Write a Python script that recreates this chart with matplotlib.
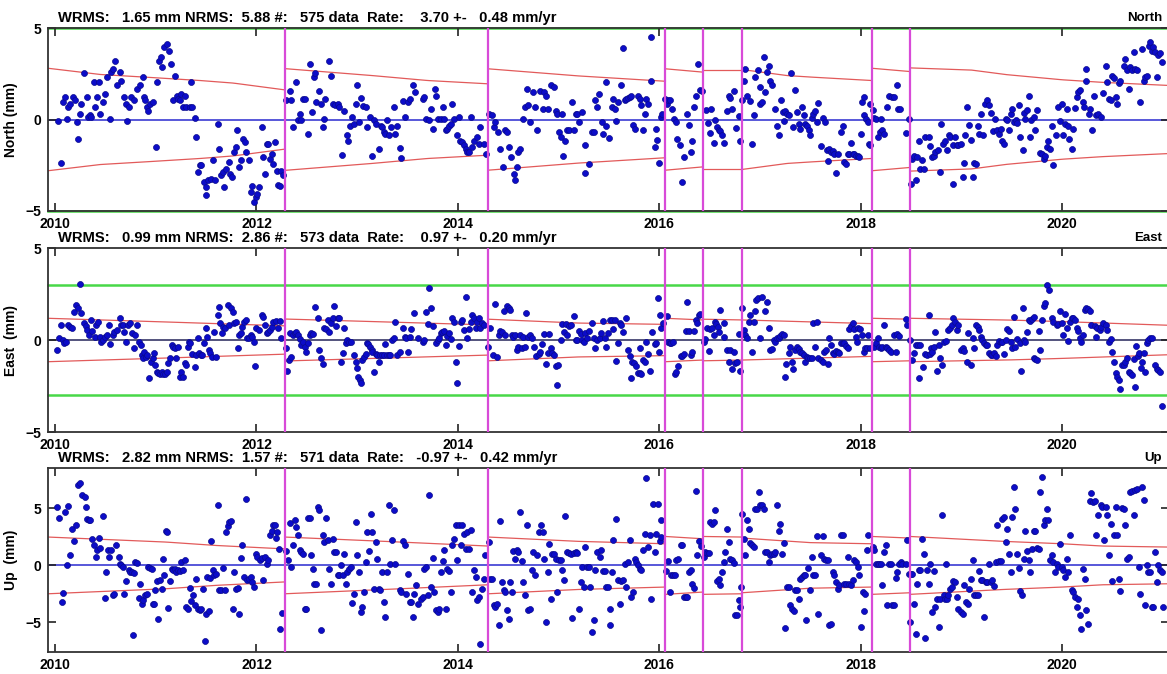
import numpy as np
import matplotlib
matplotlib.use('Agg')
import matplotlib.pyplot as plt

plt.rcParams['font.family'] = ['Liberation Sans', 'DejaVu Sans']
plt.rcParams['font.weight'] = 'bold'

# ---- data ----------------------------------------------------------------

components = ['North', 'East', 'Up']
ylabels = ['North (mm)', 'East  (mm)', 'Up  (mm)']
wrms = [1.65, 0.99, 2.82]
nrms = [5.88, 2.86, 1.57]
ndata = [575, 573, 571]
rate = [3.70, 0.97, -0.97]
rate_sig = [0.48, 0.20, 0.42]

x_ticks = [2010, 2012, 2014, 2016, 2018, 2020]
breaks = [2012.28, 2014.30, 2016.06, 2016.43, 2016.82, 2018.11, 2018.49]
green_lim = [5, 3, None]

# (decimal year, mm)
north = [
    (2010.03, -0.09), (2010.06, -2.39), (2010.08, 0.95), (2010.10, 1.22), (2010.12, 0.04), (2010.13, 0.67),
    (2010.15, 0.86), (2010.18, 1.22), (2010.20, 1.04), (2010.22, -0.15), (2010.23, -1.06), (2010.25, 0.31),
    (2010.26, 0.86), (2010.29, 2.53), (2010.32, 1.22), (2010.33, 0.13), (2010.35, 0.22), (2010.36, 0.16),
    (2010.39, 2.04), (2010.40, 0.67), (2010.42, 1.22), (2010.44, 2.04), (2010.45, 0.31), (2010.48, 0.95),
    (2010.50, 1.40), (2010.52, 2.31), (2010.55, 0.04), (2010.56, 2.59), (2010.58, 2.77), (2010.60, 3.22),
    (2010.62, 1.91), (2010.64, 2.59), (2010.65, 2.13), (2010.68, 1.22), (2010.70, 0.86), (2010.71, -0.09),
    (2010.73, 0.67), (2010.75, 1.22), (2010.78, 1.09), (2010.81, 1.68), (2010.84, 1.86), (2010.87, 2.31),
    (2010.88, 1.22), (2010.89, 1.04), (2010.91, 0.71), (2010.92, 0.49), (2010.94, 0.86), (2010.97, 0.95),
    (2011.00, -1.51), (2011.01, 2.04), (2011.03, 3.22), (2011.05, 3.41), (2011.06, 2.86), (2011.08, 3.95),
    (2011.11, 4.13), (2011.13, 3.73), (2011.15, 3.04), (2011.17, 1.04), (2011.19, 2.35), (2011.21, 1.31),
    (2011.22, 1.13), (2011.24, 1.04), (2011.25, 1.40), (2011.27, 0.67), (2011.29, 1.26), (2011.30, 0.67),
    (2011.34, 0.67), (2011.36, 0.67), (2011.35, 2.04), (2011.39, 0.09), (2011.40, -0.97), (2011.42, -2.88),
    (2011.44, -2.51), (2011.45, -2.51), (2011.48, -3.42), (2011.50, -3.70), (2011.50, -4.15), (2011.52, -3.33),
    (2011.55, -3.24), (2011.57, -2.24), (2011.59, -3.30), (2011.62, -0.24), (2011.63, -1.60), (2011.65, -3.06),
    (2011.67, -2.88), (2011.68, -3.70), (2011.70, -2.70), (2011.73, -2.33), (2011.74, -2.97), (2011.76, -3.15),
    (2011.78, -1.79), (2011.80, -1.51), (2011.81, -0.60), (2011.83, -2.57), (2011.85, -2.24), (2011.87, -1.06),
    (2011.89, -1.24), (2011.90, -1.79), (2011.93, -2.24), (2011.95, -3.97), (2011.96, -3.61), (2011.98, -4.52),
    (2012.00, -4.24), (2012.01, -4.06), (2012.02, -3.70), (2012.05, -0.42), (2012.06, -2.06), (2012.08, -2.97),
    (2012.10, -1.33), (2012.11, -1.33), (2012.13, -2.15), (2012.15, -1.88), (2012.16, -2.42), (2012.18, -1.24),
    (2012.20, -2.79), (2012.21, -3.57), (2012.23, -3.61), (2012.24, -2.79), (2012.26, -3.06),
    (2012.29, 1.04), (2012.33, 1.58), (2012.34, 1.04), (2012.36, -0.42), (2012.39, 2.04), (2012.41, -0.05),
    (2012.43, 0.31), (2012.44, -0.05), (2012.46, 1.13), (2012.48, 1.13), (2012.51, -0.78), (2012.53, 3.04),
    (2012.55, 0.40), (2012.57, 2.31), (2012.58, 2.53), (2012.59, 0.95), (2012.62, 1.58), (2012.64, 0.86),
    (2012.66, -0.42), (2012.67, 0.04), (2012.68, 1.13), (2012.72, 3.17), (2012.74, 2.35), (2012.76, 0.86),
    (2012.78, 0.77), (2012.81, 0.86), (2012.82, 0.67), (2012.85, -1.93), (2012.87, 0.49), (2012.90, -0.87),
    (2012.91, -1.15), (2012.93, -0.33), (2012.95, 0.13), (2012.97, -0.24), (2012.99, 0.86), (2013.00, 1.86),
    (2013.02, -0.15), (2013.04, 1.18), (2013.06, 0.73), (2013.09, 0.67), (2013.10, -0.42), (2013.13, 0.13),
    (2013.15, -2.02), (2013.17, -0.05), (2013.19, -0.24), (2013.22, -1.60), (2013.24, -0.33), (2013.25, -0.42),
    (2013.27, -0.69), (2013.28, -0.78), (2013.30, -0.05), (2013.32, -0.87), (2013.34, -0.42), (2013.37, 0.67),
    (2013.38, -0.78), (2013.40, -0.33), (2013.42, -1.57), (2013.43, -2.11), (2013.45, 1.00), (2013.47, 0.13),
    (2013.50, 0.95), (2013.52, 1.13), (2013.55, 1.86), (2013.57, 1.49), (2013.65, 1.13), (2013.66, 1.22),
    (2013.68, 0.04), (2013.71, -0.05), (2013.73, 0.58), (2013.75, -0.51), (2013.77, 1.68), (2013.78, 1.26),
    (2013.80, 0.04), (2013.83, 0.04), (2013.85, 0.67), (2013.86, 0.04), (2013.88, -0.60), (2013.89, -0.51),
    (2013.91, -0.38), (2013.93, -0.24), (2013.94, 0.86), (2013.96, 0.04), (2013.99, -0.87), (2014.01, 0.13),
    (2014.02, -1.15), (2014.04, -1.24), (2014.06, -1.42), (2014.08, -1.60), (2014.09, -1.79), (2014.11, -1.79),
    (2014.13, 0.13), (2014.14, -1.51), (2014.16, -1.15), (2014.19, -0.97), (2014.21, -1.33), (2014.22, -0.42),
    (2014.26, -1.33), (2014.28, -1.88),
    (2014.31, 0.31), (2014.34, 0.22), (2014.36, -0.42), (2014.37, -0.15), (2014.40, -0.69), (2014.42, -1.60),
    (2014.45, -2.60), (2014.47, -0.60), (2014.49, -0.69), (2014.51, -1.51), (2014.53, -2.06), (2014.56, -2.97),
    (2014.57, -3.33), (2014.59, -2.60), (2014.60, -1.79), (2014.62, -1.60), (2014.65, 0.04), (2014.67, 0.67),
    (2014.69, 1.68), (2014.70, 0.77), (2014.72, -0.15), (2014.75, 1.49), (2014.77, 0.67), (2014.79, -0.60),
    (2014.81, 1.58), (2014.84, 0.58), (2014.85, 1.49), (2014.87, 1.31), (2014.89, 0.58), (2014.92, 1.86),
    (2014.95, 1.77), (2014.97, 0.49), (2014.98, 0.31), (2015.00, -0.69), (2015.02, -0.97), (2015.03, 0.31),
    (2015.04, -1.97), (2015.06, -1.15), (2015.08, -0.60), (2015.10, -0.60), (2015.13, 0.95), (2015.15, -0.60),
    (2015.17, 0.31), (2015.18, 0.31), (2015.20, -0.15), (2015.23, 0.40), (2015.26, -2.93), (2015.26, -1.42),
    (2015.30, -2.42), (2015.33, -0.69), (2015.35, -0.69), (2015.36, 1.04), (2015.38, 0.67),
    (2015.40, 1.37), (2015.43, -0.15), (2015.44, -0.78), (2015.47, -0.33), (2015.47, 2.04), (2015.50, -1.00),
    (2015.53, 0.67), (2015.54, 1.13), (2015.56, 0.58), (2015.57, -0.09), (2015.59, 0.95), (2015.62, 1.91),
    (2015.64, 3.90), (2015.66, 1.04), (2015.67, 1.13), (2015.69, 1.18), (2015.71, 1.22), (2015.72, 1.31),
    (2015.74, -0.29), (2015.76, -0.51), (2015.79, 1.31), (2015.81, 1.13), (2015.82, 0.77), (2015.84, -0.60),
    (2015.86, 0.31), (2015.87, 1.13), (2015.89, 0.86), (2015.92, 4.50), (2015.92, 2.09), (2015.96, -1.51),
    (2015.97, -0.51), (2015.98, -1.11), (2016.00, -2.39), (2016.02, 0.13), (2016.03, 0.31),
    (2016.06, 1.13), (2016.08, 0.86), (2016.09, 1.07), (2016.11, 1.04), (2016.13, 0.58), (2016.15, 0.04),
    (2016.17, -0.15), (2016.18, -1.06), (2016.20, -1.42), (2016.22, -3.42), (2016.24, -2.06), (2016.27, 0.31),
    (2016.29, -0.29), (2016.31, -1.79), (2016.32, -1.15), (2016.34, 0.71), (2016.36, 1.31), (2016.38, 3.04),
    (2016.40, 1.62), (2016.42, 1.55),
    (2016.46, 0.53), (2016.48, -0.20), (2016.50, -0.75), (2016.51, 0.58), (2016.54, -1.28), (2016.55, -0.02),
    (2016.57, -0.42), (2016.59, -0.60), (2016.60, -0.64), (2016.62, -0.87), (2016.64, -1.29), (2016.67, 0.49),
    (2016.69, 1.31), (2016.70, 1.18), (2016.72, 0.58), (2016.74, 1.58), (2016.76, -0.47), (2016.79, 0.18),
    (2016.80, -1.18),
    (2016.82, 1.07), (2016.84, 2.09), (2016.85, 2.77), (2016.87, 1.31), (2016.90, 1.00), (2016.92, -1.33),
    (2016.94, 0.22), (2016.95, 2.31), (2016.98, 2.71), (2017.00, 1.77), (2017.00, 0.86), (2017.02, 0.95),
    (2017.04, 3.41), (2017.05, 1.49), (2017.07, 2.59), (2017.09, 2.95), (2017.10, 2.13), (2017.12, 1.86),
    (2017.15, 0.58), (2017.17, -0.38), (2017.19, -0.87), (2017.21, 1.09), (2017.23, 0.40), (2017.24, -0.09),
    (2017.25, 0.49), (2017.27, 0.31), (2017.29, 0.22), (2017.31, 2.53), (2017.33, -0.42), (2017.35, 1.62),
    (2017.37, 0.40), (2017.39, -0.27), (2017.40, -0.51), (2017.42, 0.67), (2017.44, 0.22), (2017.45, -0.24),
    (2017.47, -0.38), (2017.49, -0.60), (2017.50, -0.87), (2017.52, 0.09), (2017.53, 0.31), (2017.55, 0.49),
    (2017.57, -0.15), (2017.58, 0.89), (2017.60, -1.46), (2017.62, 0.09), (2017.64, -0.15), (2017.66, -1.66),
    (2017.67, -2.28), (2017.68, -1.60), (2017.70, -1.79), (2017.72, -1.73), (2017.73, -1.88), (2017.75, -2.93),
    (2017.77, -1.91), (2017.80, -0.69), (2017.82, -0.33), (2017.83, -2.33), (2017.85, -2.42), (2017.87, -1.91),
    (2017.88, -1.88), (2017.90, -1.29), (2017.92, -1.91), (2017.93, -1.91), (2017.95, -2.02), (2017.97, -1.97),
    (2017.98, -2.06), (2018.00, -0.78), (2018.01, 0.95), (2018.03, 1.22), (2018.03, 0.22), (2018.05, 0.04),
    (2018.07, -0.15), (2018.08, -1.33), (2018.09, -1.37), (2018.09, 0.86),
    (2018.12, 0.53), (2018.13, 0.09), (2018.15, 0.04), (2018.17, -0.93), (2018.19, -0.69), (2018.20, 0.04),
    (2018.21, -0.60), (2018.23, -0.78), (2018.26, 0.67), (2018.28, 1.31), (2018.31, 1.22), (2018.33, 1.22),
    (2018.36, 1.86), (2018.37, 0.58), (2018.39, 0.58), (2018.45, -0.75), (2018.48, 0.04),
    (2018.50, -3.52), (2018.51, -2.15), (2018.53, -1.97), (2018.55, -3.33), (2018.56, -2.06), (2018.58, -1.15),
    (2018.59, -2.70), (2018.61, -2.20), (2018.63, -2.70), (2018.64, -0.97), (2018.68, -0.97), (2018.69, -1.46),
    (2018.71, -2.06), (2018.73, -1.97), (2018.74, -1.79), (2018.77, -1.69), (2018.79, -2.88), (2018.80, -0.27),
    (2018.82, -1.33), (2018.84, -1.15), (2018.86, -1.66), (2018.88, -0.87), (2018.89, -0.97), (2018.92, -3.52),
    (2018.92, -1.42), (2018.94, -0.93), (2018.96, -1.37), (2018.97, -1.37), (2018.99, -1.33), (2019.01, -3.15),
    (2019.02, -2.39), (2019.03, -0.87), (2019.05, 0.71), (2019.07, -0.29), (2019.09, -1.11), (2019.11, -3.15),
    (2019.12, -2.37), (2019.14, -2.42), (2019.16, -0.38), (2019.17, -0.78), (2019.19, 0.31), (2019.21, -0.82),
    (2019.23, 0.86), (2019.25, 1.04), (2019.27, 0.77), (2019.29, 0.36), (2019.31, -0.64), (2019.33, 0.04),
    (2019.35, -0.60), (2019.37, -0.78), (2019.39, -0.51), (2019.40, -1.15), (2019.42, -1.33), (2019.44, 0.04),
    (2019.45, -0.05), (2019.47, -0.60), (2019.49, 0.31), (2019.50, 0.58), (2019.52, -0.15), (2019.54, -0.05),
    (2019.55, -0.20), (2019.57, 0.80), (2019.58, -0.97), (2019.61, -1.69), (2019.62, 0.35), (2019.63, 0.04),
    (2019.65, 0.53), (2019.67, 1.26), (2019.68, -0.97), (2019.69, -0.05), (2019.72, 0.13), (2019.73, -0.60),
    (2019.75, 0.53), (2019.78, -1.84), (2019.80, -1.91), (2019.82, -2.15), (2019.83, -1.97), (2019.85, -1.51),
    (2019.86, -1.15), (2019.88, -1.60), (2019.90, -0.33), (2019.91, -2.51), (2019.94, -0.87), (2019.96, 0.71),
    (2019.98, -0.09), (2020.00, 0.82), (2020.01, -0.87), (2020.03, -0.24), (2020.05, 0.58), (2020.06, -0.33),
    (2020.07, -1.06), (2020.10, -1.60), (2020.11, -0.51), (2020.13, 0.64), (2020.15, 1.22), (2020.16, 1.49),
    (2020.18, 1.62), (2020.21, 0.95), (2020.22, 0.67), (2020.24, 2.77), (2020.24, 2.08), (2020.27, 0.31),
    (2020.28, 0.58), (2020.30, -0.60), (2020.32, 1.26), (2020.34, 0.22), (2020.36, 0.31), (2020.38, 0.13),
    (2020.40, 1.44), (2020.43, 2.95), (2020.44, 2.04), (2020.46, 1.13), (2020.48, 1.04), (2020.49, 2.40),
    (2020.51, 2.28), (2020.53, 1.22), (2020.54, 0.86), (2020.56, 1.99), (2020.57, 2.13), (2020.61, 2.95),
    (2020.62, 3.32), (2020.64, 2.68), (2020.66, 1.68), (2020.67, 2.86), (2020.69, 2.68), (2020.71, 3.68),
    (2020.72, 2.77), (2020.74, 2.68), (2020.77, 0.95), (2020.79, 3.86), (2020.81, 2.13), (2020.82, 2.31),
    (2020.84, 2.40), (2020.86, 3.99), (2020.87, 4.23), (2020.89, 3.77), (2020.90, 3.95), (2020.92, 3.68),
    (2020.94, 2.31), (2020.95, 3.50), (2020.97, 3.62), (2020.99, 3.13),
]

east = [
    (2010.02, -0.55), (2010.04, 0.09), (2010.06, 0.82), (2010.08, 0.00), (2010.09, -0.18), (2010.11, -0.09),
    (2010.13, 0.82), (2010.15, 0.73), (2010.17, 0.67), (2010.19, 1.51), (2010.21, 1.91), (2010.23, 1.76),
    (2010.25, 3.04), (2010.26, 1.45), (2010.29, 0.91), (2010.31, 0.76), (2010.32, 0.55), (2010.34, 0.27),
    (2010.36, 1.09), (2010.37, 0.49), (2010.40, 0.18), (2010.41, 0.82), (2010.43, 1.00), (2010.45, 0.18),
    (2010.46, -0.09), (2010.48, 0.00), (2010.50, 0.18), (2010.52, 0.27), (2010.54, 0.82), (2010.55, -0.24),
    (2010.58, 0.27), (2010.59, 0.45), (2010.62, 0.55), (2010.64, 1.18), (2010.65, 0.82), (2010.67, 0.82),
    (2010.68, 0.45), (2010.70, -0.09), (2010.72, 0.82), (2010.74, 0.91), (2010.76, 0.36), (2010.78, -0.45),
    (2010.79, 0.27), (2010.81, 0.82), (2010.83, -0.09), (2010.85, -0.27), (2010.86, -0.82), (2010.87, -1.00),
    (2010.88, -0.64), (2010.90, -0.91), (2010.91, -0.82), (2010.93, -2.09), (2010.95, -1.18), (2010.97, -1.00),
    (2010.98, -0.73), (2010.99, -1.36), (2011.01, -1.73), (2011.02, -1.78), (2011.04, -1.87), (2011.06, -1.73),
    (2011.07, -1.85), (2011.09, -1.87), (2011.11, -1.73), (2011.12, -1.27), (2011.14, -1.00), (2011.16, -0.27),
    (2011.17, -0.36), (2011.19, -0.45), (2011.20, -1.00), (2011.22, -0.36), (2011.24, -2.00), (2011.25, -1.73),
    (2011.27, -2.00), (2011.29, -1.27), (2011.30, -1.36), (2011.32, -0.36), (2011.33, -0.09), (2011.34, -0.18),
    (2011.36, -0.78), (2011.39, -1.45), (2011.40, -0.82), (2011.42, 0.09), (2011.43, -0.73), (2011.45, -0.82),
    (2011.46, -0.82), (2011.48, -0.18), (2011.50, 0.64), (2011.51, 0.18), (2011.53, -0.55), (2011.54, -0.73),
    (2011.56, -0.91), (2011.58, 0.42), (2011.60, -0.91), (2011.62, 1.36), (2011.63, 1.82), (2011.64, 0.91),
    (2011.66, 0.36), (2011.67, 0.73), (2011.69, 0.64), (2011.72, 1.91), (2011.73, 0.82), (2011.75, 1.73),
    (2011.77, 1.51), (2011.78, 0.91), (2011.80, 1.00), (2011.82, -0.42), (2011.83, 0.27), (2011.85, 0.36),
    (2011.86, 0.73), (2011.88, 1.00), (2011.90, 1.09), (2011.91, 0.09), (2011.93, 0.09), (2011.95, 0.27),
    (2011.96, 0.18), (2011.98, -0.09), (2011.99, -1.40), (2012.00, 0.64), (2012.02, 0.55), (2012.05, 1.36),
    (2012.06, 1.27), (2012.08, 0.82), (2012.10, 0.36), (2012.11, 0.45), (2012.13, 0.55), (2012.15, 0.73),
    (2012.16, 1.00), (2012.19, 1.04), (2012.21, 0.64), (2012.23, 1.04), (2012.24, 0.09),
    (2012.29, -0.42), (2012.30, -1.67), (2012.32, -1.09), (2012.33, 0.36), (2012.34, -0.91), (2012.36, 0.27),
    (2012.38, 0.36), (2012.39, 0.42), (2012.41, 0.27), (2012.43, 0.05), (2012.44, -0.27), (2012.46, -0.13),
    (2012.48, -0.36), (2012.49, -0.64), (2012.51, -0.18), (2012.53, 0.27), (2012.54, 0.36), (2012.56, 0.31),
    (2012.58, 1.82), (2012.61, 1.22), (2012.62, -0.55), (2012.64, -1.00), (2012.66, -1.33), (2012.67, 0.64),
    (2012.69, 0.60), (2012.71, 1.09), (2012.72, 0.42), (2012.74, 0.91), (2012.76, 1.18), (2012.77, 1.87),
    (2012.79, 0.78), (2012.81, 1.22), (2012.82, 1.18), (2012.84, -1.22), (2012.86, -0.73), (2012.87, 0.67),
    (2012.89, -0.18), (2012.90, 0.00), (2012.92, -0.13), (2012.94, -0.09), (2012.97, -0.82), (2012.99, -1.18),
    (2013.00, -1.51), (2013.01, -2.00), (2013.03, -2.18), (2013.04, -2.31), (2013.05, -1.09), (2013.07, -0.91),
    (2013.09, -0.78), (2013.10, -0.18), (2013.11, -0.24), (2013.13, -0.36), (2013.15, -0.55), (2013.15, -0.64),
    (2013.17, -1.73), (2013.19, -0.78), (2013.20, -0.82), (2013.22, -1.18), (2013.23, -0.82), (2013.25, -0.82),
    (2013.27, -0.82), (2013.28, -0.24), (2013.30, -0.82), (2013.32, -0.82), (2013.33, -0.82), (2013.35, 0.00),
    (2013.37, 0.09), (2013.38, 0.96), (2013.40, -0.82), (2013.42, -0.64), (2013.45, 0.64), (2013.47, 0.18),
    (2013.48, 0.13), (2013.50, -0.64), (2013.52, 0.18), (2013.53, 0.60), (2013.56, 1.45), (2013.60, 0.13),
    (2013.65, -0.09), (2013.66, 0.00), (2013.68, 1.51), (2013.70, 0.85), (2013.71, 2.85), (2013.73, 1.73),
    (2013.75, 0.78), (2013.78, -0.18), (2013.80, 0.00), (2013.81, 0.09), (2013.83, 0.36), (2013.84, 0.42),
    (2013.86, 0.49), (2013.88, -0.27), (2013.89, 0.24), (2013.91, 0.36), (2013.93, 0.05), (2013.94, 1.22),
    (2013.96, 1.00), (2013.98, -1.22), (2013.99, -2.31), (2014.01, -0.31), (2014.03, 1.00), (2014.04, 1.09),
    (2014.06, 0.55), (2014.08, 2.36), (2014.09, 0.09), (2014.11, 0.60), (2014.13, 0.96), (2014.14, 1.36),
    (2014.16, 1.18), (2014.18, 0.64), (2014.19, 1.00), (2014.21, 1.18), (2014.22, 0.64), (2014.24, 0.91),
    (2014.26, 0.82),
    (2014.30, -0.36), (2014.32, 0.64), (2014.35, -0.82), (2014.37, 1.95), (2014.39, -0.91), (2014.41, 0.27),
    (2014.42, 0.49), (2014.44, 0.42), (2014.46, 1.58), (2014.47, 0.27), (2014.49, 1.85), (2014.51, 1.73),
    (2014.52, 1.64), (2014.54, 0.27), (2014.55, 0.18), (2014.57, 0.27), (2014.59, -0.55), (2014.60, -0.36),
    (2014.62, 0.27), (2014.64, -0.42), (2014.65, 0.18), (2014.67, -0.36), (2014.68, 1.45), (2014.70, 0.18),
    (2014.72, 0.27), (2014.74, 0.13), (2014.76, -0.36), (2014.78, -0.85), (2014.80, -0.78), (2014.81, -0.64),
    (2014.83, -0.24), (2014.85, 0.31), (2014.87, -1.33), (2014.89, -0.73), (2014.90, 0.31), (2014.92, -0.45),
    (2014.93, -0.73), (2014.95, -0.82), (2014.97, -1.40), (2014.98, -2.42), (2014.99, -1.36), (2015.02, 0.00),
    (2015.03, 0.85), (2015.05, 0.42), (2015.07, 0.85), (2015.08, 0.27), (2015.10, 0.78), (2015.12, 0.82),
    (2015.15, 1.33), (2015.17, 0.00), (2015.18, 0.00), (2015.20, 0.49), (2015.22, 0.31), (2015.23, 0.00),
    (2015.25, -0.13), (2015.26, 0.36), (2015.28, 0.13), (2015.30, 0.49), (2015.33, 0.91), (2015.35, 0.09),
    (2015.36, -0.45), (2015.38, 0.00), (2015.41, 0.09), (2015.42, 0.36), (2015.44, 1.04), (2015.46, 0.09),
    (2015.47, -0.36), (2015.49, 0.36), (2015.51, 1.09), (2015.53, 1.09), (2015.54, 0.60), (2015.56, 1.09),
    (2015.57, -1.15), (2015.59, -0.18), (2015.61, 0.91), (2015.62, 0.82), (2015.64, 0.45), (2015.67, 1.18),
    (2015.69, -0.55), (2015.71, -0.85), (2015.72, -2.09), (2015.73, -1.18), (2015.75, -1.27), (2015.77, -1.40),
    (2015.79, -1.82), (2015.81, -1.82), (2015.82, -1.87), (2015.81, -0.42), (2015.84, -1.09), (2015.86, -1.22),
    (2015.87, -0.09), (2015.89, -0.78), (2015.91, -1.67), (2015.93, 0.45), (2015.96, -0.24), (2015.97, -0.18),
    (2015.99, 2.27), (2016.00, -0.67), (2016.01, 1.36), (2016.02, 0.67), (2016.04, 0.91),
    (2016.08, 1.33), (2016.09, -0.09), (2016.11, -0.18), (2016.12, -0.18), (2016.14, -0.09), (2016.16, -1.87),
    (2016.17, -1.73), (2016.19, -1.40), (2016.21, -0.85), (2016.22, -0.85), (2016.24, -0.78), (2016.26, 0.49),
    (2016.27, 2.04), (2016.29, 0.49), (2016.31, -0.82), (2016.32, -0.67), (2016.34, 0.49), (2016.36, 1.09),
    (2016.37, 0.91), (2016.39, 1.36), (2016.40, 1.40),
    (2016.44, -0.09), (2016.45, 0.05), (2016.47, 0.64), (2016.49, -0.60), (2016.50, 0.60), (2016.52, 0.64),
    (2016.54, 0.27), (2016.55, 1.00), (2016.56, 0.87), (2016.58, 0.73), (2016.59, 0.45), (2016.60, 1.64),
    (2016.64, 0.91), (2016.64, 0.18), (2016.67, -0.55), (2016.69, -1.18), (2016.70, -0.55), (2016.72, -1.58),
    (2016.74, -0.67), (2016.75, -1.27), (2016.77, -1.22), (2016.79, 0.31), (2016.80, -1.67),
    (2016.82, 1.73), (2016.84, 0.55), (2016.85, 0.27), (2016.87, 0.13), (2016.89, 1.00), (2016.90, 1.36),
    (2016.92, -0.67), (2016.94, 1.00), (2016.95, 1.58), (2016.96, 2.18), (2016.98, 2.27), (2017.00, 0.13),
    (2017.02, 2.36), (2017.05, 1.58), (2017.07, 2.09), (2017.09, 0.67), (2017.10, -0.55), (2017.12, -0.49),
    (2017.14, 0.00), (2017.15, -0.09), (2017.17, 0.09), (2017.19, 0.13), (2017.20, 0.24), (2017.22, 0.31),
    (2017.24, 0.27), (2017.25, -2.00), (2017.26, -1.33), (2017.29, -0.73), (2017.30, -0.36), (2017.32, -1.18),
    (2017.33, -1.55), (2017.35, -0.55), (2017.37, -0.36), (2017.39, -0.49), (2017.40, -0.64), (2017.42, -0.73),
    (2017.44, -0.82), (2017.45, -1.18), (2017.47, -0.91), (2017.48, -1.00), (2017.50, -1.00), (2017.52, -1.00),
    (2017.53, 0.91), (2017.55, -0.36), (2017.57, 0.96), (2017.58, -0.96), (2017.60, -1.09), (2017.62, -1.18),
    (2017.63, -0.64), (2017.65, -0.55), (2017.67, -1.33), (2017.68, 0.09), (2017.70, -0.27), (2017.72, -0.73),
    (2017.73, -0.78), (2017.75, -0.60), (2017.77, -0.64), (2017.78, -0.73), (2017.80, -0.18), (2017.82, -0.18),
    (2017.83, -0.18), (2017.85, -0.31), (2017.87, -0.45), (2017.88, 0.60), (2017.90, 0.78), (2017.92, 0.91),
    (2017.93, 0.60), (2017.95, 0.18), (2017.96, -0.13), (2017.97, 0.64), (2017.99, 0.60), (2018.01, 0.27),
    (2018.03, -0.67), (2018.04, -0.45), (2018.06, -0.42), (2018.07, 0.27), (2018.09, -0.45),
    (2018.13, -0.36), (2018.15, -0.18), (2018.17, 0.09), (2018.18, -0.36), (2018.20, -0.45), (2018.21, -0.36),
    (2018.23, 0.82), (2018.25, -0.36), (2018.26, -0.45), (2018.28, -0.55), (2018.30, -0.64), (2018.33, 0.27),
    (2018.35, -0.64), (2018.36, 0.31), (2018.38, 0.24), (2018.45, 1.13), (2018.46, 0.82), (2018.49, 0.00),
    (2018.51, -1.09), (2018.53, -0.73), (2018.55, -0.27), (2018.57, -0.27), (2018.58, -2.05), (2018.59, -0.27),
    (2018.62, -1.45), (2018.64, -0.78), (2018.66, -0.82), (2018.68, 1.36), (2018.69, -0.78), (2018.70, -0.42),
    (2018.71, -0.64), (2018.73, -0.36), (2018.74, 0.45), (2018.76, -1.69), (2018.78, -0.27), (2018.79, -1.00),
    (2018.81, -1.36), (2018.83, -0.09), (2018.85, -0.05), (2018.87, 0.55), (2018.89, 0.64), (2018.91, 0.82),
    (2018.92, 1.22), (2018.94, 0.96), (2018.96, 0.55), (2018.97, 0.82), (2018.99, -0.55), (2019.01, -0.42),
    (2019.02, -0.60), (2019.05, -1.18), (2019.06, 0.40), (2019.09, -1.36), (2019.11, 0.09), (2019.12, -0.45),
    (2019.14, 0.82), (2019.16, 0.73), (2019.17, 0.55), (2019.19, 0.18), (2019.20, 0.00), (2019.22, -0.18),
    (2019.24, -0.27), (2019.25, -0.27), (2019.27, -0.73), (2019.29, -0.82), (2019.30, -0.82), (2019.32, -0.73),
    (2019.34, -0.85), (2019.35, -0.27), (2019.37, -0.05), (2019.39, -0.13), (2019.40, -0.09), (2019.42, -0.78),
    (2019.44, 0.00), (2019.45, 0.60), (2019.47, 0.49), (2019.49, -0.09), (2019.50, -0.45), (2019.52, 1.27),
    (2019.53, -0.36), (2019.55, 0.05), (2019.58, -0.18), (2019.59, -1.67), (2019.61, 1.76), (2019.62, 0.00),
    (2019.63, -0.09), (2019.65, 0.42), (2019.67, 1.09), (2019.68, 1.04), (2019.70, 1.13), (2019.72, 1.27),
    (2019.72, -1.00), (2019.73, -1.04), (2019.75, -1.09), (2019.77, 0.49), (2019.78, -0.55), (2019.80, 1.09),
    (2019.82, 1.87), (2019.83, 2.00), (2019.85, 3.00), (2019.87, 2.73), (2019.90, 1.18), (2019.91, 1.00),
    (2019.95, 0.82), (2019.96, 0.85), (2019.98, 1.58), (2020.00, 0.91), (2020.01, 0.27), (2020.03, 1.40),
    (2020.05, 0.64), (2020.06, -0.05), (2020.08, 1.00), (2020.10, 1.18), (2020.11, 1.18), (2020.13, 1.09),
    (2020.15, 0.64), (2020.16, 0.49), (2020.18, 0.09), (2020.19, -0.13), (2020.21, 0.27), (2020.23, 1.64),
    (2020.24, 1.73), (2020.26, 1.69), (2020.28, 1.58), (2020.29, 0.82), (2020.33, 0.78), (2020.34, 0.18),
    (2020.35, 0.64), (2020.37, 0.55), (2020.38, 0.73), (2020.40, 0.91), (2020.43, 0.82), (2020.44, 0.55),
    (2020.46, -0.09), (2020.48, 0.05), (2020.49, -0.67), (2020.51, -1.22), (2020.53, -1.82), (2020.54, -2.00),
    (2020.56, -2.18), (2020.57, -2.64), (2020.59, -1.36), (2020.61, -1.36), (2020.62, -1.18), (2020.64, -0.96),
    (2020.66, -1.73), (2020.67, -1.82), (2020.69, -1.91), (2020.71, -1.04), (2020.72, -2.55), (2020.73, -0.31),
    (2020.75, -0.85), (2020.76, -0.73), (2020.78, -1.51), (2020.79, -1.18), (2020.81, -0.73), (2020.82, -1.73),
    (2020.84, -0.18), (2020.85, 0.00), (2020.87, 0.09), (2020.89, 0.13), (2020.92, -1.36), (2020.94, -1.55),
    (2020.95, -1.64), (2020.97, -1.73), (2020.99, -3.60),
]

up = [
    (2010.02, 5.12), (2010.04, 4.15), (2010.08, -2.40), (2010.07, -3.22), (2010.10, 4.68), (2010.12, 0.00),
    (2010.13, 5.20), (2010.15, 0.88), (2010.17, 3.16), (2010.19, 2.11), (2010.21, 3.51), (2010.23, 7.08),
    (2010.25, 7.25), (2010.27, 6.20), (2010.30, 5.99), (2010.31, 5.12), (2010.32, 4.09), (2010.34, 3.95),
    (2010.35, 3.95), (2010.37, 2.34), (2010.39, 1.75), (2010.41, 0.73), (2010.42, 1.32), (2010.44, 2.40),
    (2010.45, 1.52), (2010.48, 4.30), (2010.50, -2.87), (2010.51, -0.58), (2010.53, 1.32), (2010.54, 0.73),
    (2010.56, 1.32), (2010.58, -2.63), (2010.59, -2.49), (2010.61, 1.75), (2010.63, 0.73), (2010.64, 0.15),
    (2010.65, 0.00), (2010.67, -0.15), (2010.68, -2.49), (2010.70, -1.40), (2010.73, -0.44), (2010.74, -0.58),
    (2010.76, -0.58), (2010.77, -6.08), (2010.78, -0.64), (2010.79, 0.29), (2010.81, 0.23), (2010.83, -2.87),
    (2010.84, -1.67), (2010.86, -3.36), (2010.87, -3.07), (2010.89, -2.63), (2010.91, -2.49), (2010.92, -0.15),
    (2010.94, -0.20), (2010.96, -0.29), (2010.97, -3.36), (2010.98, -3.36), (2010.99, -2.19), (2011.01, -1.37),
    (2011.02, -4.68), (2011.04, -1.32), (2011.06, -2.05), (2011.07, 0.58), (2011.08, -0.82), (2011.10, 2.98),
    (2011.11, 2.92), (2011.12, -3.74), (2011.14, -1.40), (2011.16, -0.29), (2011.17, -0.44), (2011.19, -0.35),
    (2011.20, -0.58), (2011.22, -0.44), (2011.24, -0.53), (2011.25, 0.29), (2011.27, -0.44), (2011.29, 0.44),
    (2011.30, -3.65), (2011.32, -3.80), (2011.34, -1.99), (2011.35, -3.16), (2011.37, -2.63), (2011.39, -3.51),
    (2011.40, -1.17), (2011.42, -3.80), (2011.44, -3.95), (2011.45, -3.80), (2011.47, -2.11), (2011.49, -6.67),
    (2011.50, -4.24), (2011.51, -1.02), (2011.53, -4.04), (2011.54, -1.11), (2011.55, 2.11), (2011.57, -0.44),
    (2011.58, -0.88), (2011.60, -0.73), (2011.62, 5.32), (2011.63, -2.19), (2011.65, -2.19), (2011.67, -0.23),
    (2011.69, -2.19), (2011.70, 2.92), (2011.72, 3.45), (2011.73, 3.80), (2011.75, 3.86), (2011.77, -3.80),
    (2011.78, -0.58), (2011.80, -2.05), (2011.82, -1.99), (2011.83, -4.24), (2011.85, 0.64), (2011.86, 1.75),
    (2011.88, -1.02), (2011.90, 5.85), (2011.91, -1.32), (2011.93, -1.17), (2011.95, -1.02), (2011.96, -1.46),
    (2011.98, -1.90), (2012.00, 1.02), (2012.01, 0.73), (2012.03, 0.44), (2012.05, 0.64), (2012.06, -1.32),
    (2012.08, 0.73), (2012.10, 0.15), (2012.11, 0.44), (2012.13, 2.63), (2012.15, 2.98), (2012.16, 3.51),
    (2012.18, 3.57), (2012.19, 2.40), (2012.20, 2.92), (2012.22, 1.40), (2012.23, -5.61), (2012.25, -4.15),
    (2012.29, 1.23), (2012.31, 0.44), (2012.33, 3.74), (2012.34, -0.15), (2012.36, 1.81), (2012.38, 3.95),
    (2012.39, 3.36), (2012.41, 2.63), (2012.43, 1.32), (2012.44, 1.17), (2012.46, 1.02), (2012.48, -3.80),
    (2012.49, -3.80), (2012.51, 4.15), (2012.53, 4.15), (2012.54, 0.94), (2012.56, -0.29), (2012.57, -1.61),
    (2012.59, -1.61), (2012.61, 5.12), (2012.62, 4.82), (2012.64, -5.70), (2012.66, 2.63), (2012.67, 2.05),
    (2012.69, 4.15), (2012.71, 2.19), (2012.72, -0.29), (2012.74, -1.61), (2012.76, 2.34), (2012.77, 1.17),
    (2012.79, 1.17), (2012.81, -0.88), (2012.82, -0.88), (2012.84, 0.00), (2012.86, -0.88), (2012.87, 1.02),
    (2012.89, -1.61), (2012.90, -0.58), (2012.92, -0.29), (2012.94, -0.15), (2012.95, -3.27), (2012.97, -2.49),
    (2012.99, 3.80), (2013.00, 0.94), (2013.02, -0.58), (2013.04, -4.09), (2013.05, -3.65), (2013.07, -2.34),
    (2013.09, 0.29), (2013.10, 2.92), (2013.12, 1.23), (2013.14, 4.53), (2013.15, 2.92), (2013.17, -2.05),
    (2013.19, 2.05), (2013.20, 0.58), (2013.22, -2.05), (2013.23, -2.19), (2013.25, -0.58), (2013.27, -3.22),
    (2013.28, -4.53), (2013.30, -0.58), (2013.32, 5.26), (2013.33, 0.15), (2013.35, 2.19), (2013.37, 4.82),
    (2013.38, 0.15), (2013.42, -2.19), (2013.43, -2.34), (2013.45, 2.11), (2013.47, 1.75), (2013.48, -2.49),
    (2013.50, -0.73), (2013.52, -3.22), (2013.53, -3.22), (2013.55, -4.53), (2013.56, -2.49), (2013.58, -1.75),
    (2013.60, -3.36), (2013.63, -2.92), (2013.65, -2.78), (2013.66, -0.29), (2013.68, -0.15), (2013.70, -2.63),
    (2013.71, 6.20), (2013.73, -1.90), (2013.75, 0.64), (2013.76, -2.34), (2013.78, -3.95), (2013.80, -4.09),
    (2013.81, -3.80), (2013.83, -0.58), (2013.85, 0.35), (2013.86, 1.32), (2013.88, -3.80), (2013.89, -0.35),
    (2013.91, -0.53), (2013.93, -2.34), (2013.94, 1.75), (2013.96, 2.34), (2013.98, 3.51), (2013.99, 0.44),
    (2014.01, 3.51), (2014.03, 1.75), (2014.04, 3.51), (2014.06, 2.78), (2014.08, 1.46), (2014.09, 2.92),
    (2014.11, 1.46), (2014.13, 3.07), (2014.14, -2.34), (2014.16, -0.44), (2014.18, -1.02), (2014.19, -3.07),
    (2014.21, -2.78), (2014.22, -6.87), (2014.24, -2.05), (2014.26, -1.17), (2014.27, 0.94),
    (2014.31, 2.05), (2014.32, -1.17), (2014.34, -1.17), (2014.36, -3.51), (2014.37, -3.65), (2014.39, -3.36),
    (2014.41, -5.20), (2014.42, 3.86), (2014.44, -1.46), (2014.46, -2.19), (2014.47, -2.34), (2014.49, -3.95),
    (2014.51, -4.68), (2014.52, -1.46), (2014.54, -2.34), (2014.55, 1.23), (2014.57, 0.58), (2014.59, 1.32),
    (2014.60, 1.17), (2014.62, 4.68), (2014.64, 0.35), (2014.65, -1.46), (2014.67, -2.57), (2014.69, 3.51),
    (2014.70, -3.95), (2014.72, -3.80), (2014.74, -0.44), (2014.75, 1.17), (2014.77, -0.88), (2014.79, 0.88),
    (2014.80, 2.92), (2014.82, 3.57), (2014.84, 2.92), (2014.85, 0.58), (2014.87, -4.97), (2014.89, -0.58),
    (2014.90, 1.90), (2014.92, -2.92), (2014.93, 1.02), (2014.95, 1.02), (2014.97, 0.58), (2014.98, -2.34),
    (2015.00, 0.44), (2015.02, 0.44), (2015.03, -0.44), (2015.05, -1.26), (2015.06, 4.30), (2015.08, 1.17),
    (2015.10, 1.08), (2015.12, 1.02), (2015.13, -4.62), (2015.15, 1.11), (2015.17, 1.17), (2015.18, 1.11),
    (2015.20, -3.80), (2015.22, -1.46), (2015.23, -0.15), (2015.25, -1.90), (2015.26, 1.61), (2015.28, -0.15),
    (2015.30, -0.15), (2015.31, -1.90), (2015.33, -5.85), (2015.35, -4.82), (2015.36, -0.44), (2015.38, 1.17),
    (2015.41, 0.73), (2015.42, 1.32), (2015.44, -0.53), (2015.46, -0.53), (2015.47, -1.90), (2015.49, -1.90),
    (2015.51, -3.80), (2015.51, -5.20), (2015.53, -0.58), (2015.54, 2.19), (2015.57, 4.09), (2015.59, -1.32),
    (2015.61, -3.36), (2015.62, -1.40), (2015.64, -1.32), (2015.66, 0.15), (2015.67, -1.90), (2015.69, 0.29),
    (2015.71, 2.19), (2015.72, -2.78), (2015.74, -2.34), (2015.76, 0.58), (2015.77, 0.29), (2015.79, 0.00),
    (2015.81, -0.29), (2015.82, -0.44), (2015.84, 1.32), (2015.86, 2.78), (2015.87, 7.66), (2015.89, 1.61),
    (2015.91, 2.63), (2015.92, -2.92), (2015.94, 5.41), (2015.96, 1.17), (2015.97, 2.78), (2015.99, 5.41),
    (2016.01, 2.11), (2016.02, 3.95), (2016.02, 2.49),
    (2016.07, -0.53), (2016.09, 0.35), (2016.11, -2.34), (2016.12, -0.88), (2016.14, -0.88), (2016.16, -0.88),
    (2016.17, 0.44), (2016.19, 0.53), (2016.21, 1.75), (2016.22, 1.75), (2016.24, -2.78), (2016.26, -2.78),
    (2016.27, -2.78), (2016.29, -0.58), (2016.31, -0.44), (2016.32, -1.61), (2016.34, -1.99), (2016.36, 6.49),
    (2016.37, 0.94), (2016.39, 2.11), (2016.41, 1.70),
    (2016.44, 0.73), (2016.45, 1.17), (2016.47, 1.11), (2016.49, 1.11), (2016.50, 3.80), (2016.52, 3.66),
    (2016.54, 3.80), (2016.55, 4.82), (2016.57, -1.40), (2016.59, -1.23), (2016.60, -1.75), (2016.62, -0.58),
    (2016.64, 0.29), (2016.65, 1.17), (2016.67, 3.22), (2016.69, 2.05), (2016.70, 0.58), (2016.72, 0.44),
    (2016.74, 0.23), (2016.75, -4.39), (2016.77, -4.33), (2016.79, -3.07), (2016.80, -3.65), (2016.81, -1.90),
    (2016.82, 4.53), (2016.84, 2.34), (2016.85, 0.88), (2016.87, 3.95), (2016.89, 3.22), (2016.90, 1.99),
    (2016.92, 1.75), (2016.94, 1.61), (2016.95, 4.97), (2016.97, 4.97), (2016.99, 6.43), (2017.00, 5.26),
    (2017.02, 5.26), (2017.04, 4.97), (2017.05, 1.17), (2017.07, 1.17), (2017.09, 0.29), (2017.10, 0.94),
    (2017.12, 1.02), (2017.14, 1.02), (2017.15, 1.17), (2017.17, 5.32), (2017.19, 2.98), (2017.20, 3.66),
    (2017.22, 1.02), (2017.24, 1.99), (2017.25, -5.50), (2017.27, -1.90), (2017.29, -1.90), (2017.30, -3.51),
    (2017.32, -3.80), (2017.34, -4.04), (2017.35, -2.19), (2017.37, -2.19), (2017.39, -2.98), (2017.40, -1.23),
    (2017.42, -1.02), (2017.44, -0.88), (2017.45, -0.82), (2017.46, -4.82), (2017.48, -0.23), (2017.50, -2.19),
    (2017.52, 0.73), (2017.53, -0.88), (2017.55, -0.82), (2017.57, 2.57), (2017.58, -4.24), (2017.60, 0.94),
    (2017.62, 2.57), (2017.63, 0.58), (2017.65, 0.44), (2017.67, 0.44), (2017.68, -5.26), (2017.70, -5.12),
    (2017.72, -0.58), (2017.73, -0.88), (2017.75, -1.46), (2017.77, -2.05), (2017.78, -1.70), (2017.80, 2.69),
    (2017.82, 2.63), (2017.83, -1.61), (2017.85, -1.61), (2017.87, 0.73), (2017.88, -1.61), (2017.90, -1.75),
    (2017.92, -1.32), (2017.93, 0.44), (2017.95, 0.29), (2017.97, -0.15), (2017.98, -0.88), (2018.00, -5.41),
    (2018.02, -2.34), (2018.03, -4.04), (2018.04, -2.49), (2018.06, 1.32), (2018.07, 2.63),
    (2018.12, 1.61), (2018.13, 1.32), (2018.15, 0.15), (2018.17, 0.15), (2018.18, 0.15), (2018.20, 0.15),
    (2018.21, -1.75), (2018.23, 1.17), (2018.25, 1.75), (2018.26, -3.51), (2018.28, 0.15), (2018.30, 0.15),
    (2018.31, -3.51), (2018.33, -3.51), (2018.35, -1.11), (2018.36, -0.58), (2018.38, 0.15), (2018.40, 0.29),
    (2018.41, 0.15), (2018.45, 0.15), (2018.46, 2.19), (2018.48, -0.73), (2018.49, -4.97),
    (2018.50, -0.73), (2018.51, -0.73), (2018.53, -3.36), (2018.55, -5.99), (2018.56, -1.61), (2018.58, -0.44),
    (2018.59, -0.44), (2018.61, 2.34), (2018.63, 1.02), (2018.64, -6.37), (2018.66, -0.44), (2018.68, -1.61),
    (2018.69, 0.15), (2018.71, -4.09), (2018.73, -0.53), (2018.74, -3.65), (2018.76, -2.92), (2018.78, -5.41),
    (2018.79, -2.92), (2018.81, 4.44), (2018.83, -2.63), (2018.84, -2.92), (2018.85, 0.15), (2018.86, -2.92),
    (2018.87, -2.63), (2018.89, -2.05), (2018.91, -1.90), (2018.92, -1.40), (2018.94, -1.46), (2018.96, -2.78),
    (2018.97, -3.80), (2018.99, -4.09), (2019.01, -4.24), (2019.02, -1.75), (2019.04, -3.22), (2019.06, -3.36),
    (2019.07, -2.05), (2019.09, -1.23), (2019.11, 0.44), (2019.12, -2.63), (2019.14, -2.63), (2019.16, -2.63),
    (2019.17, -0.53), (2019.19, -1.32), (2019.20, -1.32), (2019.22, -4.53), (2019.24, -1.46), (2019.25, -1.46),
    (2019.27, 0.15), (2019.29, -1.46), (2019.30, -1.32), (2019.32, -1.81), (2019.34, 0.29), (2019.35, 3.51),
    (2019.37, 0.35), (2019.39, 0.35), (2019.40, 4.09), (2019.42, 4.24), (2019.44, 2.05), (2019.45, 3.22),
    (2019.47, 1.02), (2019.49, -0.58), (2019.50, 4.24), (2019.52, 6.87), (2019.53, 4.97), (2019.55, 1.02),
    (2019.57, -0.23), (2019.58, -2.28), (2019.60, -2.63), (2019.62, 0.58), (2019.63, 2.98), (2019.65, 1.23),
    (2019.67, 0.44), (2019.68, -0.58), (2019.70, 1.46), (2019.72, 2.98), (2019.73, 2.98), (2019.75, 1.52),
    (2019.77, 1.46), (2019.78, 6.43), (2019.80, 7.75), (2019.82, 3.57), (2019.83, 3.95), (2019.85, 4.91),
    (2019.86, 3.95), (2019.88, 0.44), (2019.90, 0.88), (2019.91, 0.29), (2019.93, -0.58), (2019.95, 0.15),
    (2019.96, -0.15), (2019.98, 1.90), (2020.00, -0.15), (2020.01, -0.44), (2020.03, -1.02), (2020.05, 0.58),
    (2020.06, -0.58), (2020.08, 2.63), (2020.10, -2.19), (2020.11, -2.34), (2020.13, -2.78), (2020.15, -3.65),
    (2020.16, -2.92), (2020.18, -4.39), (2020.19, -5.56), (2020.21, -0.29), (2020.23, -1.17), (2020.24, -3.95),
    (2020.26, -5.12), (2020.28, 5.61), (2020.29, 6.37), (2020.31, 5.56), (2020.33, 5.61), (2020.34, 2.63),
    (2020.36, 4.44), (2020.38, 5.32), (2020.39, 5.12), (2020.41, 2.19), (2020.43, 5.12), (2020.44, 4.44),
    (2020.46, 0.88), (2020.48, 3.66), (2020.49, -1.40), (2020.51, 2.69), (2020.53, 5.12), (2020.54, 2.63),
    (2020.56, -1.17), (2020.57, -2.28), (2020.59, 5.03), (2020.61, 4.97), (2020.62, 3.51), (2020.64, 0.58),
    (2020.66, 0.73), (2020.67, 6.43), (2020.69, 6.49), (2020.71, 4.39), (2020.72, 6.58), (2020.74, 6.73),
    (2020.76, -0.15), (2020.77, -2.49), (2020.79, 6.87), (2020.81, 5.70), (2020.82, -3.51), (2020.84, 0.00),
    (2020.85, -0.58), (2020.87, -0.58), (2020.89, -3.65), (2020.90, -3.65), (2020.92, 1.17), (2020.94, -1.46),
    (2020.95, 0.06), (2020.97, -0.44), (2020.99, -0.58), (2021.00, -3.65),
]

# model sigma envelope, one list of (year, mm) knots per segment between breaks
north_env = [
    [(2009.93, 2.80), (2010.45, 2.46), (2010.91, 2.31), (2011.44, 2.13), (2011.77, 1.99), (2012.28, 1.62)],
    [(2012.28, 2.78), (2013.15, 2.40), (2013.70, 2.13), (2014.30, 1.95)],
    [(2014.30, 2.77), (2015.20, 2.38), (2016.06, 2.09)],
    [(2016.06, 2.77), (2016.43, 2.59)],
    [(2016.43, 2.73), (2016.82, 2.73)],
    [(2016.82, 2.73), (2017.27, 2.40), (2017.53, 2.31), (2018.11, 2.13)],
    [(2018.11, 2.80), (2018.49, 2.62)],
    [(2018.49, 2.82), (2019.10, 2.70), (2019.45, 2.45), (2020.00, 2.17), (2020.40, 2.03), (2021.06, 1.86)],
]
east_env = [
    [(2009.93, 1.18), (2011.10, 0.98), (2012.28, 0.77)],
    [(2012.28, 1.14), (2014.30, 0.82)],
    [(2014.30, 1.13), (2015.20, 0.92), (2016.06, 0.85)],
    [(2016.06, 1.18), (2016.43, 1.09)],
    [(2016.43, 1.13), (2016.82, 1.09)],
    [(2016.82, 1.09), (2018.11, 0.89)],
    [(2018.11, 1.18), (2018.49, 1.13)],
    [(2018.49, 1.18), (2019.50, 1.08), (2020.00, 1.00), (2021.06, 0.80)],
]
up_env = [
    [(2009.93, 2.49), (2011.10, 2.05), (2011.60, 1.75), (2012.28, 1.45)],
    [(2012.28, 2.49), (2013.30, 2.10), (2014.30, 1.70)],
    [(2014.30, 2.49), (2015.20, 2.11), (2016.06, 1.90)],
    [(2016.06, 2.54), (2016.43, 2.34)],
    [(2016.43, 2.54), (2016.82, 2.49)],
    [(2016.82, 2.40), (2017.50, 2.00), (2018.11, 1.90)],
    [(2018.11, 2.54), (2018.49, 2.40)],
    [(2018.49, 2.54), (2019.42, 2.11), (2020.00, 1.90), (2020.40, 1.70), (2021.06, 1.61)],
]

series = [north, east, up]
envelopes = [north_env, east_env, up_env]
ylims = [(-5, 5), (-5, 5), (-7.6, 8.55)]
zero_colors = ['#2a2ad0', '#24245a', '#2a2ad0']

# ---- plotting ------------------------------------------------------------

fig = plt.figure(figsize=(11.67, 6.74), dpi=100)

W = 1167.0
H = 674.0
panel_px = [(28, 211), (248, 432), (468, 652)]   # top, bottom in pixels
left_px, right_px = 48, 1169

dot_color = '#0c0cc8'
red = '#e25a5a'
green = '#48d848'
magenta = '#d84ad8'
fmt = 'WRMS:%7.2f mm NRMS:%6.2f #:%6d data  Rate:%8.2f +-%7.2f mm/yr'

for i in range(3):
    top, bot = panel_px[i]
    ax = fig.add_axes([left_px / W, 1 - bot / H, (right_px - left_px) / W, (bot - top) / H])

    ax.set_xlim(2009.93, 2021.06)
    ax.set_ylim(*ylims[i])

    ax.axhline(0, color=zero_colors[i], lw=1.1, zorder=1)
    if green_lim[i] is not None:
        ax.axhline(green_lim[i], color=green, lw=1.8, zorder=1, clip_on=False)
        ax.axhline(-green_lim[i], color=green, lw=1.8, zorder=1, clip_on=False)

    for seg in envelopes[i]:
        kx = np.array([p[0] for p in seg])
        ky = np.array([p[1] for p in seg])
        xx = np.linspace(kx[0], kx[-1], 60)
        ss = np.interp(xx, kx, ky)
        ax.plot(xx, ss, color=red, lw=0.9, zorder=2)
        ax.plot(xx, -ss, color=red, lw=0.9, zorder=2)

    pts = np.array(series[i])
    ax.plot(pts[:, 0], pts[:, 1], 'o', ms=4.3, mfc=dot_color, mec='#0a0a8c',
            mew=0.5, zorder=3, clip_on=False)

    for b in breaks:
        ax.axvline(b, color=magenta, lw=1.6, zorder=4)

    ax.set_xticks(x_ticks)
    ax.set_xticklabels([str(t) for t in x_ticks])
    ax.set_yticks([-5, 0, 5])
    ax.tick_params(direction='in', length=6, width=1.2, top=True, right=True,
                   labelsize=10, pad=4.5, colors='#222222')
    for lab in ax.get_xticklabels() + ax.get_yticklabels():
        lab.set_fontweight('bold')
        lab.set_color('black')

    for sp in ax.spines.values():
        sp.set_color('#333333')
        sp.set_linewidth(1.3)

    ax.set_ylabel(ylabels[i], fontsize=10, fontweight='bold')
    ax.yaxis.set_label_coords(-0.027, 0.5)

    stats = fmt % (wrms[i], nrms[i], ndata[i], rate[i], rate_sig[i])
    ax.annotate(stats, xy=(0.009, 1.0), xycoords='axes fraction',
                xytext=(0, 2.5), textcoords='offset points',
                ha='left', va='bottom', fontsize=10.6, fontweight='bold')
    ax.annotate(components[i], xy=(0.9937, 1.0), xycoords='axes fraction',
                xytext=(0, 3), textcoords='offset points',
                ha='right', va='bottom', fontsize=9.5, fontweight='bold')

fig.savefig('out.png', dpi=100)
